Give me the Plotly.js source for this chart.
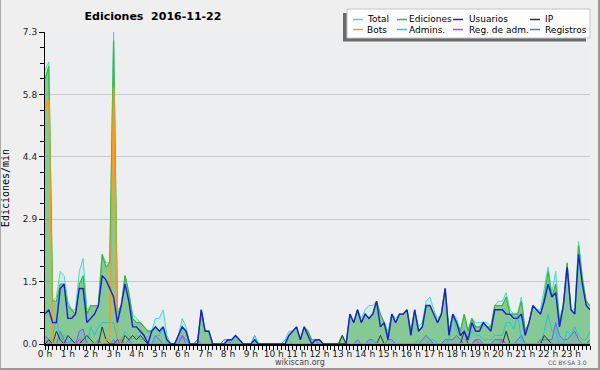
<!DOCTYPE html>
<html><head><meta charset="utf-8">
<script src="https://cdn.plot.ly/plotly-3.0.1.min.js"></script>
<style>
html,body{margin:0;padding:0;background:#efefef}
#chart{width:600px;height:370px}
#frame{position:absolute;left:0;top:0;width:600px;height:370px;box-sizing:border-box;border-left:1px solid #aaa;border-right:2px solid #999;border-bottom:2px solid #999;pointer-events:none}
</style>
</head><body><div id="chart"></div><div id="frame"></div>
<script>
// ---- data (edits per minute, 10-minute slots, 2016-11-22) ----
const hourLabels = ['0 h','1 h','2 h','3 h','4 h','5 h','6 h','7 h','8 h','9 h','10 h','11 h',
  '12 h','13 h','14 h','15 h','16 h','17 h','18 h','19 h','20 h','21 h','22 h','23 h'];
const yTickVals = [0, 1.46, 2.92, 4.38, 5.84, 7.3];
const yTickText = ['0.0','1.5','2.9','4.4','5.8','7.3'];

const total = [6.4,6.6,1.0,1.1,1.7,1.6,1.0,0.8,0.8,1.7,2.0,0.8,
 0.9,0.9,0.9,2.1,1.9,1.9,7.3,0.8,0.9,1.6,1.2,0.7,
 0.6,0.5,0.4,0.3,0.3,0.6,0.6,0.8,0.2,0.0,0.0,0.2,
 0.6,0.4,0.0,0.0,0.1,0.8,0.3,0.3,0.0,0.0,0.0,0.0,
 0.1,0.1,0.2,0.1,0.0,0.0,0.0,0.2,0.0,0.0,0.0,0.0,
 0.0,0.0,0.0,0.1,0.3,0.3,0.4,0.1,0.4,0.3,0.1,0.1,
 0.1,0.0,0.0,0.0,0.0,0.0,0.2,0.0,0.7,0.5,0.8,0.6,
 0.8,0.9,0.9,1.0,0.7,0.5,0.3,0.7,0.6,0.7,0.7,0.8,
 0.3,0.8,0.4,0.5,1.0,1.1,0.8,0.6,0.7,1.3,0.3,0.7,
 0.6,0.3,0.7,0.3,0.6,0.5,0.5,0.5,0.5,0.4,0.9,1.0,
 1.0,1.2,0.8,0.7,0.7,1.1,0.3,0.5,0.9,0.8,0.8,1.3,
 1.8,1.2,1.7,0.6,0.9,1.9,0.8,0.8,2.4,1.6,1.0,0.9];
const ediciones = [6.2,6.5,1.0,1.0,1.4,1.4,0.9,0.8,0.7,1.4,1.6,0.7,
 0.9,0.9,0.9,2.1,1.8,1.9,7.1,0.7,0.9,1.6,1.2,0.6,
 0.5,0.5,0.4,0.3,0.3,0.4,0.3,0.4,0.1,0.0,0.0,0.2,
 0.4,0.3,0.0,0.0,0.0,0.8,0.3,0.3,0.0,0.0,0.0,0.0,
 0.1,0.1,0.2,0.1,0.0,0.0,0.0,0.1,0.0,0.0,0.0,0.0,
 0.0,0.0,0.0,0.0,0.2,0.3,0.4,0.1,0.4,0.3,0.1,0.1,
 0.1,0.0,0.0,0.0,0.0,0.0,0.2,0.0,0.7,0.5,0.8,0.5,
 0.7,0.6,0.7,1.0,0.7,0.5,0.2,0.7,0.5,0.7,0.7,0.8,
 0.3,0.8,0.3,0.4,0.9,0.9,0.7,0.5,0.7,1.3,0.3,0.7,
 0.5,0.3,0.7,0.3,0.6,0.4,0.4,0.5,0.4,0.4,0.9,0.9,
 0.9,1.1,0.7,0.7,0.7,1.0,0.3,0.5,0.9,0.8,0.7,1.1,
 1.7,1.1,1.4,0.5,0.9,1.9,0.8,0.7,2.3,1.5,1.0,0.9];
const usuarios = [0.7,0.8,0.5,0.5,1.3,1.4,0.6,0.6,0.7,1.3,1.3,0.5,
 0.6,0.7,0.9,1.6,1.5,1.3,1.1,0.5,0.9,1.4,1.0,0.4,
 0.4,0.3,0.2,0.0,0.3,0.4,0.3,0.4,0.1,0.0,0.0,0.2,
 0.4,0.3,0.0,0.0,0.0,0.8,0.3,0.3,0.0,0.0,0.0,0.0,
 0.1,0.1,0.2,0.1,0.0,0.0,0.0,0.1,0.0,0.0,0.0,0.0,
 0.0,0.0,0.0,0.0,0.2,0.3,0.4,0.1,0.4,0.2,0.0,0.1,
 0.1,0.0,0.0,0.0,0.0,0.0,0.0,0.0,0.7,0.5,0.8,0.5,
 0.7,0.6,0.7,1.0,0.4,0.5,0.1,0.7,0.5,0.7,0.7,0.8,
 0.2,0.8,0.3,0.4,0.9,0.9,0.7,0.5,0.7,1.3,0.2,0.7,
 0.5,0.2,0.3,0.1,0.5,0.3,0.3,0.5,0.4,0.3,0.8,0.8,
 0.8,0.7,0.7,0.6,0.6,0.7,0.2,0.5,0.9,0.8,0.7,1.0,
 1.4,1.1,1.2,0.4,0.9,1.8,0.8,0.7,2.1,1.4,0.9,0.8];
const ip = [0,0.1,0,0.3,0.1,0,0.2,0.1,0,0,0.1,0.2,
 0.1,0,0,0.4,0.1,0,0,0.1,0,0.2,0.1,0.2,
 0.1,0.2,0.1,0,0,0,0,0,0,0,0,0,
 0,0,0,0,0,0,0,0,0,0,0,0,
 0,0,0,0,0,0,0,0,0,0,0,0,
 0,0,0,0,0,0,0,0,0,0,0,0,
 0,0,0,0,0,0,0.2,0,0,0,0,0,
 0,0,0,0,0.2,0,0,0,0,0,0,0,
 0,0,0,0,0,0,0,0,0,0,0,0,
 0,0,0.3,0,0,0,0,0,0,0,0,0,
 0,0.3,0,0,0,0,0,0,0,0,0,0.2,
 0.1,0,0,0,0,0,0,0,0,0,0,0];
const bots = [5.5,5.7,0,0,0,0,0,0,0,0,0,0,
 0,0,0,0,0.1,0.1,6.0,0.2,0,0,0,0,
 0,0,0,0,0,0,0,0,0,0,0,0,
 0,0,0,0,0,0,0,0,0,0,0,0,
 0,0,0,0,0,0,0,0,0,0,0,0,
 0,0,0,0,0,0,0,0,0,0,0,0,
 0,0,0,0,0,0,0,0,0,0,0,0,
 0,0,0,0,0,0,0,0,0,0,0,0,
 0,0,0,0,0,0,0,0,0,0,0,0,
 0,0,0,0,0,0,0,0,0,0,0,0,
 0,0,0,0,0,0,0,0,0,0,0,0,
 0,0,0,0,0,0,0,0,0,0,0,0];
const admins = [0.1,0,0.2,0.6,0.1,0.2,0.1,0,0,0.1,0.1,0,
 0.4,0.2,0.4,0.5,0.5,0.5,0.5,0.1,0.1,0.3,0.2,0.1,
 0.2,0.1,0.1,0,0,0.2,0.2,0.4,0,0,0,0.1,
 0.2,0.1,0,0,0,0,0,0,0,0,0,0,
 0,0,0.1,0,0,0,0,0.2,0,0,0,0,
 0,0,0,0.1,0.1,0,0,0,0,0,0,0,
 0,0,0,0,0,0,0,0,0,0,0,0,
 0,0,0.1,0,0,0,0,0,0,0,0,0,
 0,0,0.1,0,0,0.1,0.1,0,0,0,0.1,0.7,
 0.3,0.2,0.1,0.1,0.3,0.2,0.2,0.1,0.1,0.1,0.2,0.2,
 0.2,0.5,0.5,0.35,0.7,0.1,0,0,0,0,0,0.3,
 0.7,0.3,0.3,0,0,0.3,0.2,0.4,0.2,0.1,0.1,0.3];
const regAdm = [0,0,0,0,0,0,0,0,0,0.1,0,0,
 0,0,0,0,0,0,0,0,0,0,0,0,
 0,0,0,0,0,0,0,0,0,0,0,0,
 0.2,0,0,0,0,0,0,0,0,0,0,0,
 0,0,0,0,0,0,0,0,0,0,0,0,
 0,0,0,0,0,0,0,0,0,0,0,0,
 0,0,0,0,0,0,0,0,0,0,0,0,
 0,0,0,0,0,0,0,0,0,0,0,0,
 0,0,0,0,0,0,0,0,0,0,0,0,
 0,0,0,0,0,0.1,0,0,0,0,0,0,
 0.1,0,0,0,0,0,0,0,0,0,0,0,
 0,0,0,0,0,0,0,0,0,0,0,0];
const registros = [0.2,0.1,0,0,0.3,0.1,0,0.1,0,0.3,0.35,0,
 0,0,0.1,0,0,0,0.1,0,0.1,0,0.1,0,
 0,0,0,0,0,0.2,0.1,0,0,0,0,0,
 0.2,0.1,0,0,0.1,0,0,0,0,0,0,0.1,
 0.1,0,0,0,0,0,0,0,0,0,0,0,
 0,0,0,0,0,0,0,0,0,0,0,0.1,
 0,0,0,0,0,0,0,0,0,0,0.1,0,
 0,0.1,0.1,0,0,0,0.1,0.1,0,0,0,0,
 0,0,0,0.1,0.2,0.1,0,0,0,0.1,0.1,0.1,
 0.2,0.1,0,0,0,0.1,0.1,0,0,0,0.1,0.1,
 0.1,0,0,0,0.1,0.2,0,0,0,0,0.1,0.1,
 0.1,0.1,0.5,0.2,0.1,0.1,0.2,0.3,0.1,0,0,0.1];

const seriesNames  = ['Total','Ediciones','Usuarios','IP','Bots','Admins.','Reg. de adm.','Registros'];
const seriesColors = ['#3fdccf','#3cb83c','#1c1ce0','#333333','#ff9a10','#22c4dc','#dd30ee','#6464ff'];
const seriesData   = [total, ediciones, usuarios, ip, bots, admins, regAdm, registros];

// ---- build ----
const slots = total.map((_, i) => i * 10); // minutes since midnight
const tickVals = slots;
const tickText = slots.map(m => (m % 60 === 0 ? hourLabels[m / 60] : ''));

const style = {
  'Total':        {width: 1,   fill: 'tozeroy', fillcolor: 'rgba(64,224,208,0.15)'},
  'Ediciones':    {width: 1.2, fill: 'tozeroy', fillcolor: 'rgba(40,160,45,0.45)'},
  'Registros':    {width: 1,   fill: 'tozeroy', fillcolor: 'rgba(100,100,255,0.12)'},
  'Admins.':      {width: 1},
  'Reg. de adm.': {width: 1},
  'IP':           {width: 1},
  'Bots':         {width: 1.5},
  'Usuarios':     {width: 1.4}
};
const drawOrder = ['Total','Ediciones','Registros','Admins.','Reg. de adm.','IP','Bots','Usuarios'];
const traces = drawOrder.map(name => {
  const k = seriesNames.indexOf(name);
  const s = style[name];
  const t = {
    x: slots, y: seriesData[k], type: 'scatter', mode: 'lines', name: name,
    line: {color: seriesColors[k], width: s.width}, showlegend: false, hoverinfo: 'skip'
  };
  if (s.fill) { t.fill = s.fill; t.fillcolor = s.fillcolor; }
  return t;
});

// pixel helpers for the hand-drawn legend box (plot area 45..590 x 32..344)
const PX = px => (px - 45) / 545;
const PY = py => (344 - py) / 312;

const shapes = [
  {type:'rect', xref:'paper', yref:'paper', x0:PX(343), x1:PX(586), y0:PY(41.5), y1:PY(13), fillcolor:'#6a6a6a', line:{width:0}},
  {type:'rect', xref:'paper', yref:'paper', x0:PX(347), x1:PX(590), y0:PY(38), y1:PY(9), fillcolor:'#ffffff', line:{color:'#c4c4c4', width:1}}
];
const annotations = [];
const colLine = [353, 397, 453, 530];
const colText = [366, 408, 468, 544];
const rowY = [19.5, 29.5];
seriesNames.forEach((name, k) => {
  const c = k % 4, r = Math.floor(k / 4);
  shapes.push({type:'line', xref:'paper', yref:'paper', x0:PX(colLine[c]), x1:PX(colLine[c] + 10),
    y0:PY(rowY[r]), y1:PY(rowY[r]), line:{color:seriesColors[k], width:1.5}});
  annotations.push({xref:'paper', yref:'paper', x:PX(colText[c]), y:PY(rowY[r]), xanchor:'left', yanchor:'middle',
    text:name, showarrow:false, borderpad:0, font:{family:'DejaVu Sans', size:9, color:'#000'}});
});
annotations.push({xref:'paper', yref:'paper', x:PX(300), y:PY(362), xanchor:'center', yanchor:'middle',
  text:'wikiscan.org', showarrow:false, font:{family:'DejaVu Sans', size:8, color:'#444'}});
annotations.push({xref:'paper', yref:'paper', x:PX(589), y:PY(362), xanchor:'right', yanchor:'middle',
  text:'CC BY-SA 3.0', showarrow:false, font:{family:'DejaVu Sans', size:6, color:'#555'}});

const layout = {
  width: 600, height: 370,
  margin: {l:45, r:10, t:32, b:26, pad:0},
  paper_bgcolor: '#efefef', plot_bgcolor: '#edeef0',
  showlegend: false,
  title: {text: 'Ediciones\u00a0 2016-11-22', font: {family:'DejaVu Sans', size:11, color:'#000', weight:'bold'},
          x: 0.255, xref:'container', xanchor:'center', y: 0.957, yref:'container', yanchor:'middle'},
  xaxis: {
    range: [0, slots[slots.length - 1]], tickmode:'array', tickvals: tickVals, ticktext: tickText,
    ticks:'outside', ticklen:4, tickwidth:1, tickcolor:'#000', showgrid:false, zeroline:false,
    showline:true, linecolor:'#000', linewidth:1.5, tickangle:0, ticklabelstandoff:-3,
    tickfont:{family:'DejaVu Sans', size:9, color:'#222'}, fixedrange:true
  },
  yaxis: {
    range: [0, 7.3], tickmode:'array', tickvals: yTickVals, ticktext: yTickText,
    ticks:'outside', ticklen:5, tickcolor:'#000', showgrid:true, gridcolor:'#c9c9c9', gridwidth:1,
    zeroline:false, showline:true, linecolor:'#000', linewidth:1,
    minor: {tickmode:'linear', tick0:0, dtick:0.365, ticks:'outside', ticklen:4, tickcolor:'#000', showgrid:false},
    tickfont:{family:'DejaVu Sans', size:9, color:'#222'},
    title:{text:'Ediciones/min', font:{family:'DejaVu Sans Mono', size:10, color:'#000'}, standoff:11},
    fixedrange:true
  },
  shapes: shapes, annotations: annotations
};
Plotly.newPlot('chart', traces, layout, {displayModeBar:false, staticPlot:true});
</script>
</body></html>
